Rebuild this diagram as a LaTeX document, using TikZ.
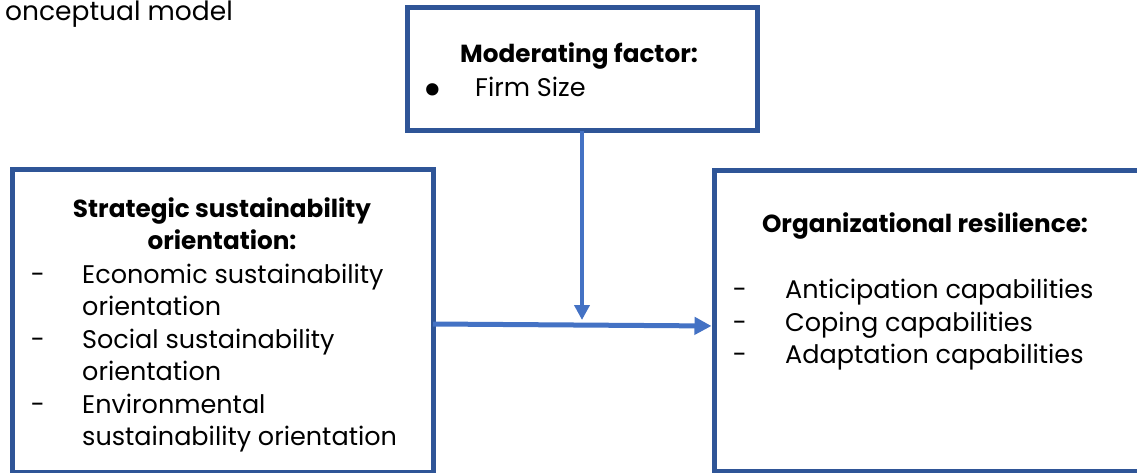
\documentclass[tikz,border=0pt]{standalone}
\usepackage{fontspec}
\setmainfont{Poppins}
\usetikzlibrary{arrows.meta}
\definecolor{frameblue}{HTML}{2F5597}
\definecolor{linkblue}{HTML}{4472C4}
\begin{document}
\begin{tikzpicture}[x=1pt,y=-1pt,
  frame/.style={draw=frameblue, line width=5pt, inner sep=0pt, outer sep=0pt, anchor=north west},
  body/.style={font=\fontsize{25.5}{30}\selectfont, inner sep=0pt, anchor=base west},
  head/.style={font=\fontsize{24.7}{30}\selectfont\bfseries, inner sep=0pt, anchor=base},
  dashmark/.style={font=\fontsize{25.5}{30}\selectfont, inner sep=0pt, anchor=base},
  link/.style={draw=linkblue, line width=5pt, -{Triangle[length=17pt,width=17pt]}}
]
\useasboundingbox (0,0) rectangle (1137,473);

% title line at the top left
\node[font=\fontsize{26.5}{30}\selectfont, inner sep=0pt, anchor=base east] (title) at (233,21) {onceptual model};

% the three frames
\node[frame, minimum width=350pt, minimum height=123.5pt] (mod) at (407,7.5) {};
\node[frame, minimum width=421pt, minimum height=302pt] (ssb) at (12,170) {};
\node[frame, minimum width=431pt, minimum height=300pt] (res) at (714.5,171) {};

% moderating factor
\node[head] (modhead) at (579,63) {Moderating factor:};
\node[font=\fontsize{50}{50}\selectfont, inner sep=0pt] (modbul) at (433,95) {\textbullet};
\node[body] (moditem) at (475,97) {Firm Size};

% strategic sustainability orientation
\node[head] (ssbhead1) at (222,217) {Strategic sustainability};
\node[head] (ssbhead2) at (222,249) {orientation:};
\node[body] (ssbi1) at (82,283) {Economic sustainability};
\node[body] (ssbi2) at (82,315) {orientation};
\node[body] (ssbi3) at (82,348) {Social sustainability};
\node[body] (ssbi4) at (82,380) {orientation};
\node[body] (ssbi5) at (82,413) {Environmental};
\node[body] (ssbi6) at (82,445) {sustainability orientation};
\node[dashmark] (ssbd1) at (38,283) {-};
\node[dashmark] (ssbd2) at (38,348) {-};
\node[dashmark] (ssbd3) at (38,413) {-};

% organizational resilience
\node[head] (reshead) at (925,233) {Organizational resilience:};
\node[body] (resi1) at (785,298) {Anticipation capabilities};
\node[body] (resi2) at (785,331) {Coping capabilities};
\node[body] (resi3) at (785,363) {Adaptation capabilities};
\node[dashmark] (resd1) at (740,298) {-};
\node[dashmark] (resd2) at (740,331) {-};
\node[dashmark] (resd3) at (740,363) {-};

% connectors
\coordinate (meet) at (582,320);
\draw[link, line width=4pt, -{Triangle[length=15pt,width=15pt]}] (mod.south) -- (meet);
\draw[link, shorten >=3pt] ([yshift=-3pt]ssb.east) -- ([yshift=-5pt]res.west);
\end{tikzpicture}
\end{document}
